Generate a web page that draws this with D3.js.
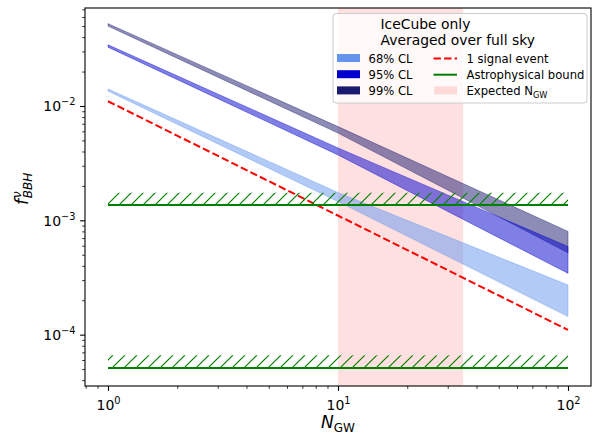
<!DOCTYPE html>
<html><head><meta charset="utf-8">
<script src="https://cdn.jsdelivr.net/npm/d3@7"></script>
<style>body{margin:0;background:#fff;} svg{display:block;font-family:"DejaVu Sans",sans-serif;}</style>
</head><body><svg id="chart" width="596" height="434"></svg>
<script>
// ---- data ----
const nGrid = [1, 10, 100];
const cl68Lower = [0.0135, 1.46e-3, 1.44e-4];
const cl68Upper = [0.0141, 1.75e-3, 2.72e-4];
const cl95Lower = [0.0327, 3.73e-3, 3.44e-4];
const cl95Upper = [0.0343, 4.3e-3, 5.9e-4];
const cl99Lower = [0.0500, 5.8e-3, 5.2e-4];
const cl99Upper = [0.0525, 6.6e-3, 8.0e-4];
const signalN = [1, 100];
const signalF = [0.011, 1.1e-4];
const astroN = [1, 100];
const astroBound = [1.36e-3, 5.1e-5];
const astroHatchTop = [1.74e-3, 6.6e-5];
const expectedN = [10, 35];
const xTickValues = [1, 10, 100];
const xTickExp = ["0", "1", "2"];
const yTickValues = [1e-4, 1e-3, 1e-2];
const yTickExp = ["\u22124", "\u22123", "\u22122"];
const legendTitle = ["IceCube only", "Averaged over full sky"];
const bandLabels = ["68% CL", "95% CL", "99% CL"];
const lineLabels = ["1 signal event", "Astrophysical bound", "Expected N"];

// ---- setup ----
const svg = d3.select("#chart");
const m = {left: 85, right: 591, top: 8, bottom: 386};
const x = d3.scaleLog().domain([Math.pow(10, -0.1), Math.pow(10, 2.1)]).range([m.left, m.right]);
const y = d3.scaleLog().domain([Math.pow(10, -4.449), Math.pow(10, -1.143)]).range([m.bottom, m.top]);

const defs = svg.append("defs");
defs.append("clipPath").attr("id", "clip").append("rect")
  .attr("x", m.left).attr("y", m.top).attr("width", m.right - m.left).attr("height", m.bottom - m.top);
defs.append("pattern").attr("id", "hatch").attr("patternUnits", "userSpaceOnUse")
  .attr("width", 12).attr("height", 12)
  .append("path").attr("d", "M0,12 L12,0 M-3,3 L3,-3 M9,15 L15,9")
  .attr("stroke", "#008000").attr("stroke-width", 1.2).attr("fill", "none");

const plot = svg.append("g").attr("clip-path", "url(#clip)");

// expected N_GW span
plot.append("rect")
  .attr("x", x(expectedN[0])).attr("width", x(expectedN[1]) - x(expectedN[0]))
  .attr("y", m.top).attr("height", m.bottom - m.top)
  .attr("fill", "#ff0000").attr("fill-opacity", 0.12);

// bands
const bands = [
  {lo: cl99Lower, hi: cl99Upper, color: "#191970"},
  {lo: cl95Lower, hi: cl95Upper, color: "#0000CD"},
  {lo: cl68Lower, hi: cl68Upper, color: "#6495ED"}
];
bands.forEach(b => {
  const pts = nGrid.map((n, i) => ({n, lo: b.lo[i], hi: b.hi[i]}));
  const area = d3.area().x(d => x(d.n)).y0(d => y(d.lo)).y1(d => y(d.hi));
  plot.append("path").datum(pts).attr("d", area)
    .attr("fill", b.color).attr("fill-opacity", 0.5)
    .attr("stroke", b.color).attr("stroke-opacity", 0.5).attr("stroke-width", 0.8);
});

// 1 signal event
const sigPts = signalN.map((n, i) => ({n, f: signalF[i]}));
plot.append("path").datum(sigPts)
  .attr("d", d3.line().x(d => x(d.n)).y(d => y(d.f)))
  .attr("fill", "none").attr("stroke", "#ff0000").attr("stroke-width", 2)
  .attr("stroke-dasharray", "7.4,3.2");

// astrophysical bounds with hatch
astroBound.forEach((b, i) => {
  const hatchPts = astroN.map(n => ({n, lo: b, hi: astroHatchTop[i]}));
  plot.append("path").datum(hatchPts)
    .attr("d", d3.area().x(d => x(d.n)).y0(d => y(d.lo)).y1(d => y(d.hi)))
    .attr("fill", "url(#hatch)");
  plot.append("path").datum(astroN.map(n => ({n, f: b})))
    .attr("d", d3.line().x(d => x(d.n)).y(d => y(d.f)))
    .attr("fill", "none").attr("stroke", "#008000").attr("stroke-width", 2);
});

// ---- axes ----
function minorTicks(lo, hi) {
  const out = [];
  for (let e = Math.floor(Math.log10(lo)); e <= Math.ceil(Math.log10(hi)); e++) {
    for (let k = 2; k <= 9; k++) {
      const v = k * Math.pow(10, e);
      if (v >= lo && v <= hi) out.push(v);
    }
  }
  return out;
}
const xd = x.domain(), yd = y.domain();

const xAxis = svg.append("g").attr("transform", `translate(0,${m.bottom})`);
xAxis.append("g").call(d3.axisBottom(x).tickValues(minorTicks(xd[0], xd[1])).tickSize(2.8).tickFormat(""))
  .call(g => { g.select(".domain").remove(); g.selectAll("line").attr("stroke-width", 0.8); });
const xMaj = xAxis.append("g").call(d3.axisBottom(x).tickValues(xTickValues).tickSize(4.9).tickFormat(""));
xMaj.select(".domain").remove();
xMaj.selectAll("line").attr("stroke-width", 1.1);
xMaj.selectAll(".tick").each(function(d, i) {
  const t = d3.select(this).append("text").attr("y", 24).attr("fill", "#000")
    .attr("text-anchor", "middle").attr("font-size", 14).attr("font-family", "DejaVu Sans");
  t.append("tspan").text("10");
  t.append("tspan").attr("font-size", 9.8).attr("dy", -6).text(xTickExp[i]);
});

const yAxis = svg.append("g").attr("transform", `translate(${m.left},0)`);
yAxis.append("g").call(d3.axisLeft(y).tickValues(minorTicks(yd[0], yd[1])).tickSize(2.8).tickFormat(""))
  .call(g => { g.select(".domain").remove(); g.selectAll("line").attr("stroke-width", 0.8); });
const yMaj = yAxis.append("g").call(d3.axisLeft(y).tickValues(yTickValues).tickSize(4.9).tickFormat(""));
yMaj.select(".domain").remove();
yMaj.selectAll("line").attr("stroke-width", 1.1);
yMaj.selectAll(".tick").each(function(d, i) {
  const t = d3.select(this).append("text").attr("x", -9.5).attr("y", 5).attr("fill", "#000")
    .attr("text-anchor", "end").attr("font-size", 14).attr("font-family", "DejaVu Sans");
  t.append("tspan").text("10");
  t.append("tspan").attr("font-size", 9.8).attr("dy", -6).text(yTickExp[i]);
});

// spines
svg.append("rect").attr("x", m.left).attr("y", m.top)
  .attr("width", m.right - m.left).attr("height", m.bottom - m.top)
  .attr("fill", "none").attr("stroke", "#000").attr("stroke-width", 1.1);

// axis labels
const xl = svg.append("text").attr("x", (m.left + m.right) / 2).attr("y", 428)
  .attr("text-anchor", "middle").attr("font-size", 17);
xl.append("tspan").attr("font-style", "italic").text("N");
xl.append("tspan").attr("font-size", 12).attr("dy", 3.5).text("GW");

const yl = svg.append("g").attr("transform", "translate(28,189) rotate(-90)")
  .append("text").attr("x", -16).attr("y", 0).attr("font-size", 17);
yl.append("tspan").attr("font-style", "italic").text("f");
yl.append("tspan").attr("font-style", "italic").attr("font-size", 12).attr("dx", 1).attr("dy", -7).text("\u03bd");
yl.append("tspan").attr("font-style", "italic").attr("font-size", 12).attr("dx", -7).attr("dy", 11).text("BBH");

// ---- legend ----
const lg = svg.append("g");
lg.append("rect").attr("x", 333).attr("y", 13.5).attr("width", 254).attr("height", 89.5)
  .attr("rx", 3).attr("fill", "#fff").attr("fill-opacity", 0.8)
  .attr("stroke", "#cccccc").attr("stroke-width", 1);
legendTitle.forEach((s, i) => {
  lg.append("text").attr("x", 380.5).attr("y", 28.5 + 16 * i).attr("font-size", 13.9).text(s);
});
const bandColors = ["#6495ED", "#0000CD", "#191970"];
bandLabels.forEach((s, i) => {
  const by = 63 + 16.2 * i;
  lg.append("rect").attr("x", 337).attr("y", by - 9).attr("width", 23).attr("height", 8).attr("fill", bandColors[i]);
  lg.append("text").attr("x", 368.5).attr("y", by).attr("font-size", 11.6).text(s);
});
// line entries
const ly = [63, 79.2, 95.4];
lg.append("line").attr("x1", 433.5).attr("x2", 457).attr("y1", ly[0] - 4.5).attr("y2", ly[0] - 4.5)
  .attr("stroke", "#ff0000").attr("stroke-width", 2).attr("stroke-dasharray", "7.4,3.2");
lg.append("line").attr("x1", 433.5).attr("x2", 457).attr("y1", ly[1] - 4.5).attr("y2", ly[1] - 4.5)
  .attr("stroke", "#008000").attr("stroke-width", 2);
lg.append("rect").attr("x", 434).attr("y", ly[2] - 9).attr("width", 23).attr("height", 8)
  .attr("fill", "#ff0000").attr("fill-opacity", 0.13);
lineLabels.forEach((s, i) => {
  const t = lg.append("text").attr("x", 466.5).attr("y", ly[i]).attr("font-size", 11.6).text(s);
  if (i === 2) t.append("tspan").attr("font-size", 8.2).attr("dy", 2.5).text("GW");
});
</script></body></html>
